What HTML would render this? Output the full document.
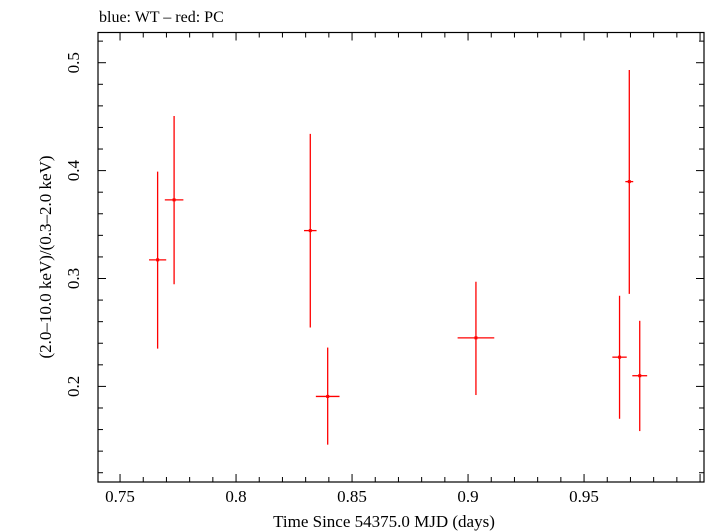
<!DOCTYPE html>
<html><head><meta charset="utf-8"><style>
html,body{margin:0;padding:0;background:#fff;}
svg{display:block;font-family:"Liberation Serif",serif;}
</style></head><body>
<svg id="chart" width="705" height="532">
<text x="99" y="22" font-size="16">blue: WT – red: PC</text>
<rect x="98" y="32.5" width="606" height="449.5" fill="none" stroke="#000" stroke-width="1.2"/>
<g id="ticks"></g>
<g id="marks"></g>
<text x="384" y="527" font-size="17" text-anchor="middle">Time Since 54375.0 MJD (days)</text>
<text transform="translate(51,257) rotate(-90)" font-size="17" text-anchor="middle">(2.0–10.0 keV)/(0.3–2.0 keV)</text>
</svg>
<script>
const times=[0.7662,0.7733,0.8320,0.8395,0.9034,0.9653,0.9695,0.9740];
const timeErr=[0.0037,0.0040,0.0027,0.0051,0.0079,0.0031,0.0017,0.0032];
const ratios=[0.3173,0.3729,0.3444,0.1907,0.245,0.2271,0.3898,0.2099];
const ratioHi=[0.399,0.4506,0.434,0.236,0.297,0.284,0.4932,0.2608];
const ratioLo=[0.235,0.2947,0.2546,0.146,0.192,0.170,0.2858,0.1586];
const xTickLabels=["0.75","0.8","0.85","0.9","0.95"];
const yTickLabels=["0.2","0.3","0.4","0.5"];
const NS="http://www.w3.org/2000/svg";
const L=98,R=704,T=32.5,B=482;
const X0=0.7405,X1=1.0017,Y0=0.1114,Y1=0.528;
function sx(v){return L+(v-X0)/(X1-X0)*(R-L);}
function sy(v){return B-(v-Y0)/(Y1-Y0)*(B-T);}
function mk(tag,attrs,parent){const e=document.createElementNS(NS,tag);for(const k in attrs)e.setAttribute(k,attrs[k]);parent.appendChild(e);return e;}
const tg=document.getElementById('ticks');
for(let i=75;i<=100;i++){const v=i/100;const x=sx(v);if(x>R)break;const major=i%5===0;const len=major?8:5;
 const t1=mk('line',{x1:x,x2:x,y1:B,y2:B-len,stroke:'#000','stroke-width':1},tg);
 
 
 const t2=mk('line',{x1:x,x2:x,y1:T,y2:T+len,stroke:'#000','stroke-width':1},tg);
 
 }
xTickLabels.forEach(s=>{const t=mk('text',{x:sx(parseFloat(s)),y:502,'font-size':17,'text-anchor':'middle'},tg);t.textContent=s;
 
 });
for(let i=6;i<=26;i++){const v=i*0.02;const y=sy(v);if(y<T||y>B)continue;const major=i%5===0;const len=major?8:5;
 const t1=mk('line',{x1:L,x2:L+len,y1:y,y2:y,stroke:'#000','stroke-width':1},tg);
 
 
 const t2=mk('line',{x1:R,x2:R-len,y1:y,y2:y,stroke:'#000','stroke-width':1},tg);
 
 }
yTickLabels.forEach(s=>{const y=sy(parseFloat(s));const t=mk('text',{transform:`translate(79,${y}) rotate(-90)`,'font-size':17,'text-anchor':'middle'},tg);t.textContent=s;
 
 });
const mg=document.getElementById('marks');
times.forEach((t,i)=>{const g=mk('g',{},mg);
 
 
 mk('line',{x1:sx(t),x2:sx(t),y1:sy(ratioHi[i]),y2:sy(ratioLo[i]),stroke:'#f00','stroke-width':1.3},g);
 mk('line',{x1:sx(t-timeErr[i]),x2:sx(t+timeErr[i]),y1:sy(ratios[i]),y2:sy(ratios[i]),stroke:'#f00','stroke-width':1.3},g);
 mk('rect',{x:sx(t)-1.5,y:sy(ratios[i])-1.5,width:3,height:3,fill:'#f00'},g);
});
</script>
</body></html>
